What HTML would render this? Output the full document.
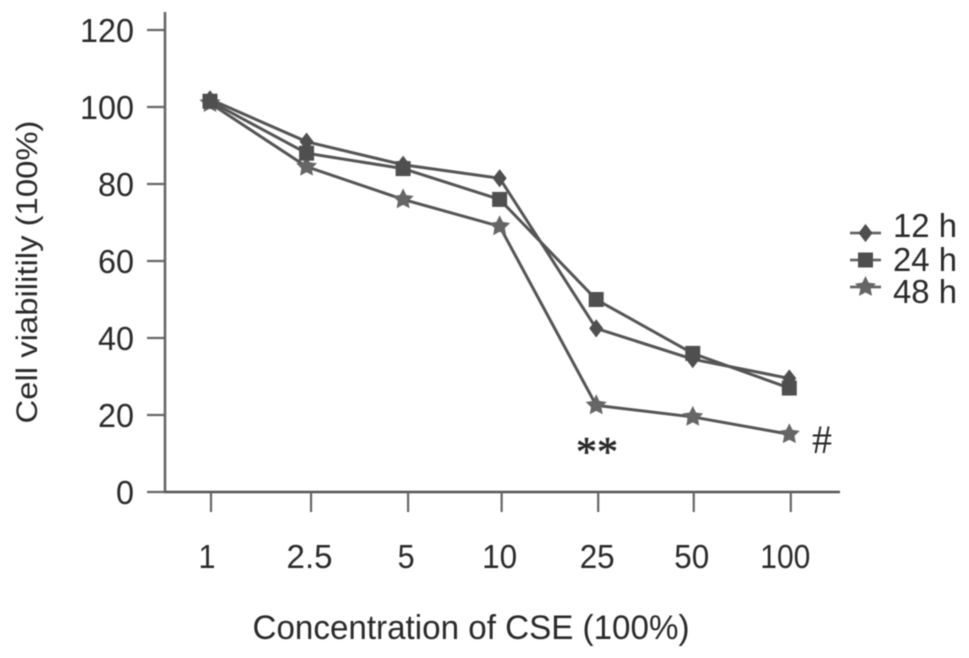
<!DOCTYPE html>
<html><head><meta charset="utf-8"><style>
html,body{margin:0;padding:0;background:#fff;width:969px;height:658px;overflow:hidden}
svg{display:block}
text{font-family:"Liberation Sans",sans-serif;fill:#2b2b2b}
</style></head><body>
<svg id="chart" width="969" height="658" viewBox="0 0 969 658" xmlns="http://www.w3.org/2000/svg">
<defs><filter id="soft" x="-5%" y="-5%" width="110%" height="110%"><feGaussianBlur stdDeviation="0.6"/></filter></defs>
<g id="root" filter="url(#soft)"></g>
</svg>
<script>
const categories = ['1','2.5','5','10','25','50','100'];
const yTicks = [0,20,40,60,80,100,120];
const series12h = [102,91,85,81.5,42.5,34.5,29.5];
const series24h = [101.5,88,84,76,50,36,27];
const series48h = [101,84.5,76,69,22.5,19.5,15];
const seriesNames = ['12 h','24 h','48 h'];

const NS='http://www.w3.org/2000/svg';
const root=document.getElementById('root');
const X0=165, Y0=492;
const tickNudge=[1,4.5,5,2,2,1,1.5];
const labelNudge=[-4,-1.5,-2,-2,-1,-2,-5.5];
function xScale(i){return 210+i*96.55;}
function yScale(v){return Y0-v*3.85;}
function make(tag,attrs,name){
  const el=document.createElementNS(NS,tag);
  for(const k in attrs)el.setAttribute(k,attrs[k]);
  
  
  root.appendChild(el);
  return el;
}
function label(txt,x,y,size,anchor,name,extra){
  const el=make('text',Object.assign({x:x,y:y,'font-size':size,'text-anchor':anchor},extra||{}),name);
  el.textContent=txt;
  return el;
}
const AX='#666';
make('line',{x1:X0,y1:12,x2:X0,y2:Y0+1,stroke:AX,'stroke-width':2.6},'y-axis');
make('line',{x1:X0-1,y1:Y0,x2:840,y2:Y0,stroke:'#555','stroke-width':2.4},'x-axis');
yTicks.forEach(t=>{
  make('line',{x1:147,y1:yScale(t),x2:X0,y2:yScale(t),stroke:AX,'stroke-width':2.2},'y-tick-'+t);
  label(String(t),134,yScale(t)+12,33,'end','y-tick-label-'+t,{textLength:String(t).length===1?18:(String(t).length===2?36:54),lengthAdjust:'spacingAndGlyphs'});
});
categories.forEach((c,i)=>{
  const tx=xScale(i)+tickNudge[i];
  make('line',{x1:tx,y1:Y0,x2:tx,y2:512,stroke:AX,'stroke-width':2.2},'x-tick-'+c);
  label(c,tx+labelNudge[i],568,33,'middle','x-tick-label-'+c,{textLength:c.length===1?17:(c.length===2?35:(c==='100'?50:46)),lengthAdjust:'spacingAndGlyphs'});
});
label('Concentration of CSE (100%)',471,639,34,'middle','x-axis-title',{textLength:437,lengthAdjust:'spacingAndGlyphs'});
const yt=label('Cell viabilitily (100%)',0,0,30,'middle','y-axis-title',{textLength:303,lengthAdjust:'spacingAndGlyphs'});
yt.setAttribute('transform','translate(37,272) rotate(-90)');

function diamond(x,y,r){return `${x},${y-r*1.3} ${x+r},${y} ${x},${y+r*1.3} ${x-r},${y}`;}
function star(x,y,r){
  const p=[];
  for(let i=0;i<10;i++){
    const a=-Math.PI/2+i*Math.PI/5, q=i%2?r*0.5:r;
    p.push((x+q*Math.cos(a)).toFixed(1)+','+(y+q*Math.sin(a)).toFixed(1));
  }
  return p.join(' ');
}
function marker(kind,x,y,name){
  if(kind===0)make('polygon',{points:diamond(x,y,7),fill:'#505050'},name);
  if(kind===1)make('rect',{x:x-7.5,y:y-7.5,width:15,height:15,fill:'#505050'},name);
  if(kind===2)make('polygon',{points:star(x,y,11),fill:'#666'},name);
}
[series12h,series24h,series48h].forEach((vals,k)=>{
  const id=seriesNames[k].replace(' ','');
  make('polyline',{points:vals.map((v,i)=>xScale(i)+','+yScale(v)).join(' '),fill:'none',stroke:'#555','stroke-width':3},'line-'+id);
});
[series48h,series12h,series24h].forEach((vals)=>{
  const k=[series12h,series24h,series48h].indexOf(vals);
  const id=seriesNames[k].replace(' ','');
  vals.forEach((v,i)=>marker(k,xScale(i),yScale(v),'point-'+id+'-'+categories[i]));
});
seriesNames.forEach((n,k)=>{
  const ly=233+k*27, ty=[237,271,303][k], id=n.replace(' ','');
  make('line',{x1:850,y1:ly,x2:881,y2:ly,stroke:'#666','stroke-width':2.8},'legend-line-'+id);
  marker(k,865.5,ly,'legend-marker-'+id);
  label(n,893,ty,33,'start','legend-label-'+id,{textLength:64,lengthAdjust:'spacingAndGlyphs'});
});
label('**',597,466,42,'middle','significance-double-star',{style:'font-family:"Liberation Serif",serif;stroke:#2b2b2b;stroke-width:.6'});
label('#',822,453,40,'middle','significance-hash',{style:'font-family:"Liberation Serif",serif'});
</script>
</body></html>
